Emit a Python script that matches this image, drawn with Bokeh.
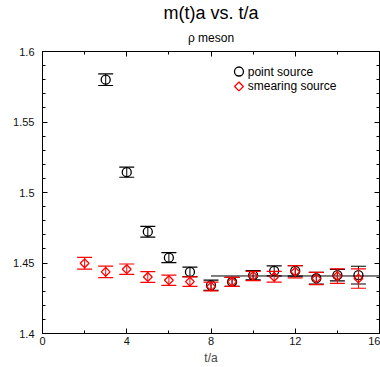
import numpy as np
from bokeh.plotting import figure
from bokeh.models import (FixedTicker, LinearAxis, Range1d, Label, Title,
                          ColumnDataSource)
from bokeh.embed import file_html
from bokeh.resources import INLINE

# effective mass m(t)a of the rho meson, point source
t_point = [3, 4, 5, 6, 7, 8, 9, 10, 11, 12, 13, 14, 15]
m_point = [1.5800, 1.5144, 1.4722, 1.4538, 1.4437, 1.4342, 1.4366,
           1.4413, 1.4444, 1.4444, 1.4392, 1.4414, 1.4414]
err_point = [0.0041, 0.0036, 0.0038, 0.0036, 0.0034, 0.0036, 0.0032,
             0.0033, 0.0035, 0.0037, 0.0041, 0.0041, 0.0063]

# smearing source
t_smear = [2, 3, 4, 5, 6, 7, 8, 9, 10, 11, 12, 13, 14, 15]
m_smear = [1.4498, 1.4437, 1.4456, 1.4401, 1.4378, 1.4368, 1.4333,
           1.4366, 1.4408, 1.4402, 1.4438, 1.4390, 1.4407, 1.4390]
err_smear = [0.0042, 0.0041, 0.0037, 0.0038, 0.0036, 0.0034, 0.0031,
             0.0032, 0.0033, 0.0038, 0.0044, 0.0044, 0.0052, 0.0069]

# plateau fit
fit_t = [8, 16]
fit_m = 1.4408

series_labels = ["point source", "smearing source"]

x_ticks = [0, 4, 8, 12, 16]
x_tick_labels = ["0", "4", "8", "12", "16"]
y_ticks = [1.4, 1.45, 1.5, 1.55, 1.6]
y_tick_labels = ["1.4", "1.45", "1.5", "1.55", "1.6"]

FONT = "Liberation Sans"
X0, X1 = 0, 16
Y0, Y1 = 1.4, 1.6
BLACK = "black"
RED = "#ff0000"

p = figure(width=380, height=367, x_range=Range1d(X0, X1), y_range=Range1d(Y0, Y1),
           output_backend="svg", toolbar_location=None, title=None,
           min_border_left=42, min_border_right=1, min_border_top=50,
           min_border_bottom=34)
p.xgrid.visible = False
p.ygrid.visible = False
p.outline_line_color = "black"
p.outline_line_width = 1
p.background_fill_color = "white"
p.border_fill_color = "white"

x_minor = list(np.arange(X0, X1 + 0.001, 2.0))
y_minor = [round(v, 2) for v in np.arange(Y0, Y1 + 0.0001, 0.01)]


def style_axis(ax, ticks, minor, labels, show_labels):
    ax.ticker = FixedTicker(ticks=ticks, minor_ticks=minor)
    ax.axis_line_color = "black"
    ax.major_tick_line_color = "black"
    ax.minor_tick_line_color = "black"
    ax.major_tick_in = 5
    ax.major_tick_out = 0
    ax.minor_tick_in = 3
    ax.minor_tick_out = 0
    if show_labels:
        ax.major_label_overrides = {t: l for t, l in zip(ticks, labels)}
        ax.major_label_text_font = FONT
        ax.major_label_text_font_size = "11px"
        ax.major_label_text_color = "#111111"
    else:
        # mirrored tick marks only, no labels
        ax.major_label_text_font_size = "0px"
        ax.major_label_text_color = None
        ax.major_label_standoff = 0


xa = p.xaxis[0]
style_axis(xa, x_ticks, x_minor, x_tick_labels, True)
xa.major_label_standoff = 3
xa.axis_label = "t/a"
xa.axis_label_text_font = FONT
xa.axis_label_text_font_size = "12px"
xa.axis_label_text_font_style = "normal"
xa.axis_label_standoff = 3

ya = p.yaxis[0]
style_axis(ya, y_ticks, y_minor, y_tick_labels, True)
ya.major_label_standoff = 8

top_axis = LinearAxis()
style_axis(top_axis, x_ticks, x_minor, x_tick_labels, False)
p.add_layout(top_axis, "above")
right_axis = LinearAxis()
style_axis(right_axis, y_ticks, y_minor, y_tick_labels, False)
p.add_layout(right_axis, "right")

# subtitle first (nearest the frame), then the main title above it
p.add_layout(Title(text="ρ meson", align="center", text_font=FONT,
                   text_font_size="12px", text_font_style="normal",
                   text_color="black", standoff=13), "above")
p.add_layout(Title(text="m(t)a vs. t/a", align="center", text_font=FONT,
                   text_font_size="18px", text_font_style="normal",
                   text_color="black", standoff=0), "above")

# plateau fit line
p.line(x=fit_t, y=[fit_m, fit_m], line_color=BLACK, line_width=1)

CIRCLE = dict(marker="circle", size=9, angle=0.0)
DIAMOND = dict(marker="square", size=6.2, angle=np.pi / 4)


def add_series(t, m, err, color, shape):
    src = ColumnDataSource(dict(t=t, m=m,
                                lo=[a - e for a, e in zip(m, err)],
                                hi=[a + e for a, e in zip(m, err)]))
    p.segment(x0="t", y0="lo", x1="t", y1="hi", source=src,
              line_color=color, line_width=1)
    p.scatter(x="t", y="lo", source=src, marker="dash", size=15,
              line_color=color, line_width=1.2)
    p.scatter(x="t", y="hi", source=src, marker="dash", size=15,
              line_color=color, line_width=1.2)
    p.scatter(x="t", y="m", source=src, fill_color=None, line_color=color,
              line_width=1.3, **shape)


add_series(t_point, m_point, err_point, BLACK, CIRCLE)
add_series(t_smear, m_smear, err_smear, RED, DIAMOND)

# key in the upper right of the frame
key_x = X0 + 0.583 * (X1 - X0)
key_text_x = X0 + 0.609 * (X1 - X0)
key_rows = [Y1 - 0.071 * (Y1 - Y0), Y1 - 0.124 * (Y1 - Y0)]
for label, color, shape, ky in zip(series_labels, [BLACK, RED],
                                   [CIRCLE, DIAMOND], key_rows):
    p.scatter(x=[key_x], y=[ky], fill_color=None, line_color=color,
              line_width=1.3, **shape)
    p.add_layout(Label(x=key_text_x, y=ky, text=label, text_font=FONT,
                       text_font_size="12px", text_baseline="middle",
                       text_align="left", text_color="black"))

open("out.html", "w").write(file_html(p, INLINE))
